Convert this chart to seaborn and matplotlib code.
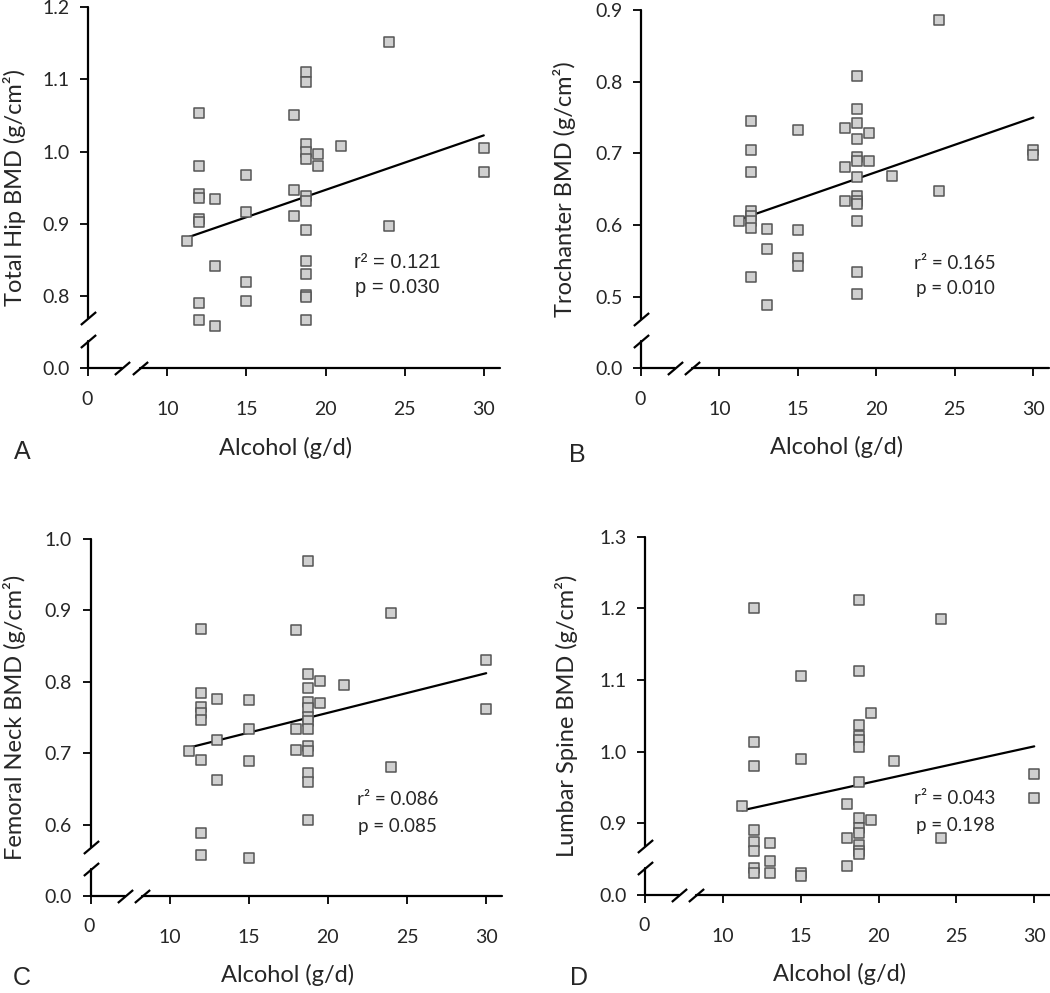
import pandas as pd
import seaborn as sns
import matplotlib.pyplot as plt

# Dados (alcool em g/d e DMO em g/cm2)
alcohol = [11.25,
           12, 12, 12, 12, 12, 12, 12, 12,
           13, 13, 13,
           15, 15, 15, 15,
           18, 18, 18,
           18.75, 18.75, 18.75, 18.75, 18.75, 18.75, 18.75, 18.75, 18.75, 18.75, 18.75, 18.75, 18.75,
           19.5, 19.5,
           21,
           24, 24,
           30, 30]

total_hip = [0.876,
             1.054, 0.980, 0.941, 0.936, 0.906, 0.903, 0.791, 0.767,
             0.934, 0.841, 0.759,
             0.968, 0.917, 0.819, 0.793,
             1.050, 0.947, 0.911,
             1.110, 1.096, 1.010, 0.999, 0.990, 0.939, 0.931, 0.892, 0.849, 0.831, 0.802, 0.798, 0.767,
             0.996, 0.980,
             1.007,
             1.152, 0.897,
             1.005, 0.972]

trochanter = [0.606,
              0.745, 0.705, 0.674, 0.620, 0.613, 0.605, 0.596, 0.528,
              0.595, 0.566, 0.488,
              0.732, 0.593, 0.554, 0.543,
              0.736, 0.681, 0.633,
              0.808, 0.762, 0.743, 0.720, 0.695, 0.690, 0.667, 0.640, 0.634, 0.629, 0.605, 0.535, 0.503,
              0.729, 0.689,
              0.668,
              0.886, 0.647,
              0.704, 0.698]

femoral_neck = [0.703,
                0.874, 0.785, 0.765, 0.756, 0.746, 0.690, 0.588, 0.558,
                0.776, 0.719, 0.662,
                0.775, 0.734, 0.689, 0.553,
                0.873, 0.734, 0.704,
                0.969, 0.811, 0.791, 0.771, 0.763, 0.750, 0.745, 0.734, 0.710, 0.703, 0.672, 0.660, 0.606,
                0.801, 0.770,
                0.796,
                0.896, 0.681,
                0.830, 0.762]

lumbar_spine = [0.924,
                1.201, 1.014, 0.980, 0.891, 0.874, 0.862, 0.837, 0.831,
                0.873, 0.848, 0.831,
                1.106, 0.990, 0.831, 0.826,
                0.927, 0.879, 0.840,
                1.211, 1.113, 1.037, 1.022, 1.016, 1.006, 0.957, 0.908, 0.894, 0.887, 0.870, 0.862, 0.857,
                1.054, 0.904,
                0.987,
                1.185, 0.880,
                0.969, 0.935]

x_ticks = [5, 10, 15, 20, 25, 30]
x_ticklabels = ['', '10', '15', '20', '25', '30']

sns.set_style('white')
plt.rcParams['font.family'] = ['Lato', 'DejaVu Sans']

fig = plt.figure(figsize=(10.5, 9.93), dpi=100)

paineis = [
    # posicao, valores, rotulo y, ticks y, texto, letra, fonte do texto, coords do rotulo y
    ([0.0841, 0.6291, 0.3917, 0.3638], total_hip, 'Total Hip BMD (g/cm²)',
     [0.7, 0.8, 0.9, 1.0, 1.1, 1.2], ('r² = 0.121', 'p = 0.030'), 'A', 'Liberation Sans', -0.151,
     (0.750, 0.293, 0.223)),
    ([0.6105, 0.6291, 0.3886, 0.3608], trochanter, 'Trochanter BMD (g/cm²)',
     [0.4, 0.5, 0.6, 0.7, 0.8, 0.9], ('r² = 0.165', 'p = 0.010'), 'B', 'Lato', -0.159,
     (0.770, 0.293, 0.223)),
    ([0.0862, 0.0977, 0.3919, 0.3595], femoral_neck, 'Femoral Neck BMD (g/cm²)',
     [0.5, 0.6, 0.7, 0.8, 0.9, 1.0], ('r² = 0.086', 'p = 0.085'), 'C', 'Lato', -0.157,
     (0.746, 0.269, 0.196)),
    ([0.6143, 0.0987, 0.3855, 0.3608], lumbar_spine, 'Lumbar Spine BMD (g/cm²)',
     [0.8, 0.9, 1.0, 1.1, 1.2, 1.3], ('r² = 0.043', 'p = 0.198'), 'D', 'Lato', -0.166,
     (0.766, 0.268, 0.195)),
]

letras_pos = {'A': (0.021, 0.545), 'B': (0.550, 0.542), 'C': (0.021, 0.003), 'D': (0.551, 0.003)}
barra = [(-1, -0.85), (1, 0.85)]

for pos, valores, ylabel, yticks, stats, letra, fonte, ylab_x, tpos in paineis:
    ax = fig.add_axes(pos)
    df = pd.DataFrame({'alcohol': alcohol, 'bmd': valores})
    sns.regplot(data=df, x='alcohol', y='bmd', ax=ax, ci=None, marker='s', truncate=True,
                scatter_kws=dict(s=52, color='#d0d0d0', edgecolors='#555555', linewidths=1.1,
                                 alpha=1, zorder=3),
                line_kws=dict(color='black', lw=1.6, zorder=2))

    ax.set_xlim(5, 31)
    ax.set_ylim(yticks[0], yticks[-1])
    ax.set_xticks(x_ticks)
    ax.set_xticklabels(x_ticklabels)
    ax.set_yticks(yticks)
    ax.set_yticklabels(['0.0'] + ['%.1f' % v for v in yticks[1:]])
    ax.tick_params(direction='out', length=5.5, width=1.3, labelsize=14,
                   bottom=True, left=True, color='black')
    ax.tick_params(axis='x', pad=18)
    ax.tick_params(axis='y', pad=8)
    for s in ax.spines.values():
        s.set_visible(False)

    # eixos com quebra
    kw = dict(transform=ax.transAxes, color='black', lw=1.6, clip_on=False, zorder=4)
    ax.plot([0, 0], [0, 0.075], **kw)
    ax.plot([0, 0], [0.138, 1], **kw)
    ax.plot([0, 0.083], [0, 0], **kw)
    ax.plot([0.125, 1], [0, 0], **kw)
    ax.plot([0, 0], [0.075, 0.138], transform=ax.transAxes, ls='none', marker=barra,
            markersize=11, markeredgewidth=1.6, markeredgecolor='black', clip_on=False, zorder=5)
    ax.plot([0.083, 0.125], [0, 0], transform=ax.transAxes, ls='none', marker=barra,
            markersize=11, markeredgewidth=1.6, markeredgecolor='black', clip_on=False, zorder=5)

    # rotulo "0" do eixo x um pouco acima dos outros
    ax.annotate('0', xy=(5, 0), xycoords=ax.get_xaxis_transform(), xytext=(-1, -16),
                textcoords='offset points', ha='center', va='top', fontsize=14)

    ax.set_xlabel('Alcohol (g/d)', fontsize=17)
    ax.set_ylabel(ylabel, fontsize=17)
    ax.xaxis.set_label_coords(0.48, -0.19)
    ax.xaxis.label.set_va('top')
    ax.yaxis.set_label_coords(ylab_x, 0.5)

    tam = 14.5 if fonte == 'Liberation Sans' else 13.5
    ax.text(tpos[0], tpos[1], stats[0], transform=ax.transAxes, ha='center', va='center',
            fontsize=tam, family=fonte)
    ax.text(tpos[0], tpos[2], stats[1], transform=ax.transAxes, ha='center', va='center',
            fontsize=tam, family=fonte)

    fig.text(letras_pos[letra][0], letras_pos[letra][1], letra, fontsize=18,
             family='Liberation Sans', ha='center',
             va='bottom' if letra in 'CD' else 'center')

plt.savefig('out.png', dpi=100)
